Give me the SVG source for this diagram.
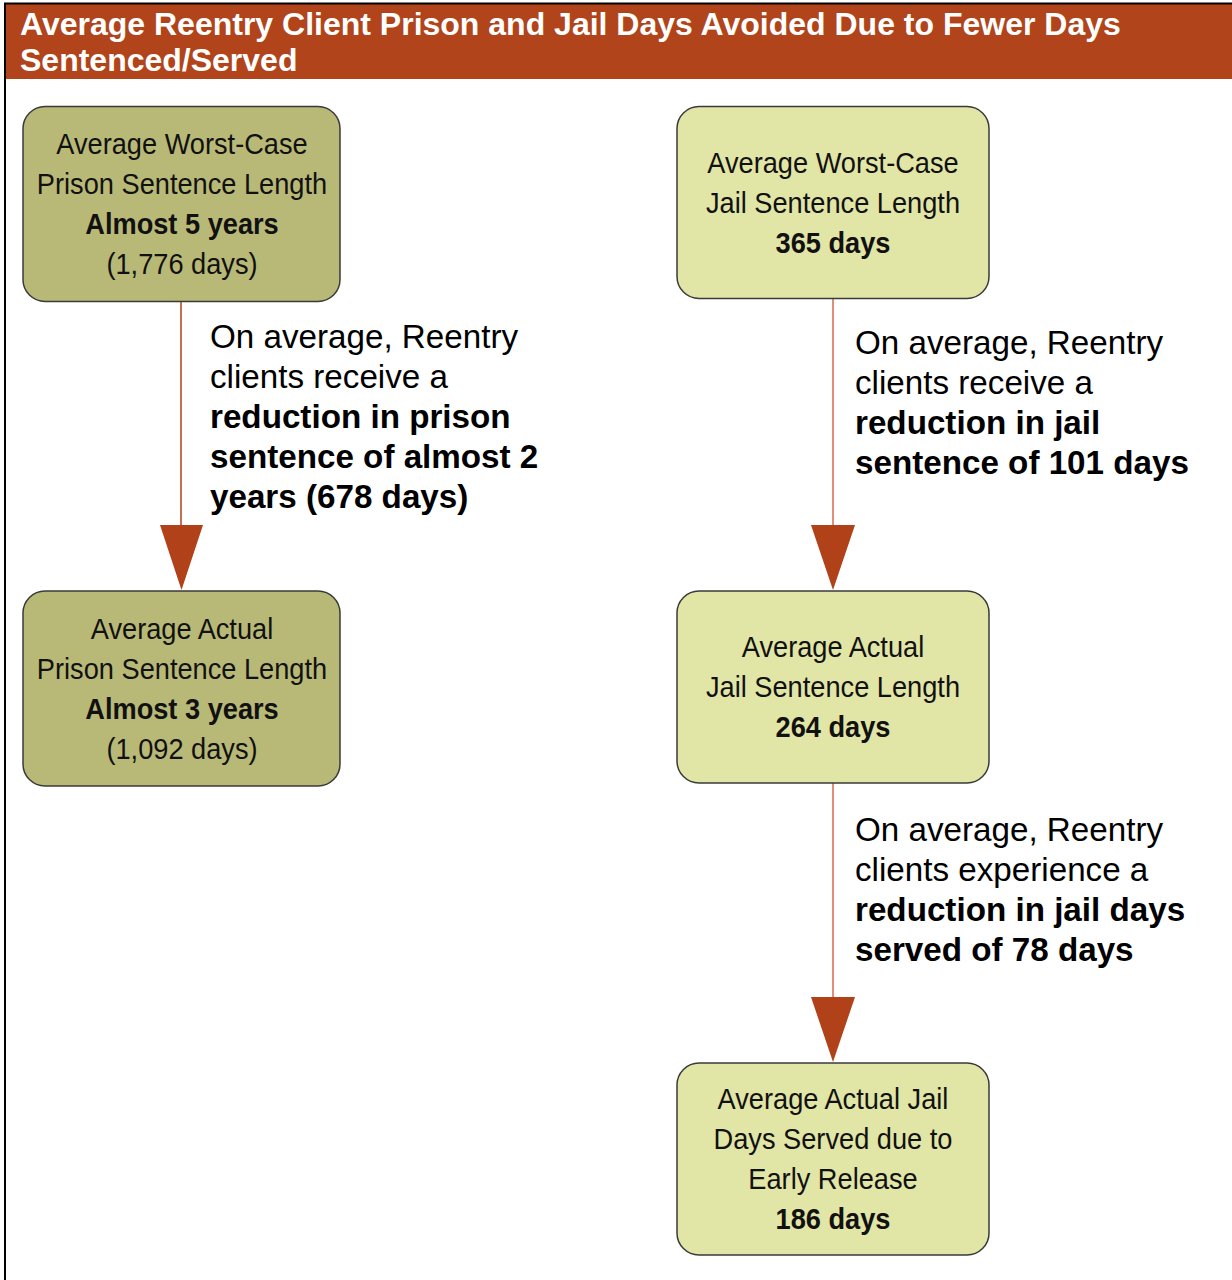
<svg xmlns="http://www.w3.org/2000/svg" width="1232" height="1280" viewBox="0 0 1232 1280">
<defs>
<style>
.frame{fill:none;stroke:#000;stroke-width:2}
.hdr{fill:#b1441a}
.title{font-family:"Liberation Sans",Arial,sans-serif;font-weight:bold;font-size:32px;fill:#fff}
.dark{fill:#b9b977;stroke:#3a3a3a;stroke-width:1.5}
.light{fill:#e1e5a6;stroke:#3a3a3a;stroke-width:1.5}
.nt{font-family:"Liberation Sans",Arial,sans-serif;font-size:30px;fill:#111;text-anchor:middle}
.b{font-weight:bold}
.lbl{font-family:"Liberation Sans",Arial,sans-serif;font-size:33.2px;fill:#000}
.c1{stroke:#b04118;stroke-width:1.5;fill:none}
.c2{stroke:#e0907a;stroke-width:2;fill:none}
.ah{fill:#b04118}
</style>
</defs>
<rect x="0" y="0" width="1232" height="1280" fill="#fff"/>
<rect class="hdr" x="6" y="4" width="1226" height="75"/>
<path class="frame" d="M5,1280 V3.5 H1232"/>
<text class="title" x="20" y="35">Average Reentry Client Prison and Jail Days Avoided Due to Fewer Days</text>
<text class="title" x="20" y="71">Sentenced/Served</text>

<g id="connectors">
<line class="c1" x1="181" y1="302" x2="181" y2="527"/>
<polygon class="ah" points="160,525 203,525 181.5,590"/>
<line class="c2" x1="833" y1="299" x2="833" y2="527"/>
<polygon class="ah" points="811,525 855,525 833,590"/>
<line class="c2" x1="833" y1="783" x2="833" y2="999"/>
<polygon class="ah" points="811,997 855,997 833,1062"/>
</g>

<g id="node-prison-worst">
<rect class="dark" x="23" y="106.5" width="317" height="195" rx="22"/>
<g transform="translate(182 0) scale(0.907 1)">
<text class="nt" x="0" y="154">Average Worst-Case</text>
<text class="nt" x="0" y="194">Prison Sentence Length</text>
<text class="nt b" x="0" y="234">Almost 5 years</text>
<text class="nt" x="0" y="274">(1,776 days)</text>
</g>
</g>

<g id="node-prison-actual">
<rect class="dark" x="23" y="591" width="317" height="195" rx="22"/>
<g transform="translate(182 0) scale(0.907 1)">
<text class="nt" x="0" y="639">Average Actual</text>
<text class="nt" x="0" y="679">Prison Sentence Length</text>
<text class="nt b" x="0" y="719">Almost 3 years</text>
<text class="nt" x="0" y="759">(1,092 days)</text>
</g>
</g>

<g id="node-jail-worst">
<rect class="light" x="677" y="106.5" width="312" height="192" rx="22"/>
<g transform="translate(833 0) scale(0.907 1)">
<text class="nt" x="0" y="173">Average Worst-Case</text>
<text class="nt" x="0" y="213">Jail Sentence Length</text>
<text class="nt b" x="0" y="253">365 days</text>
</g>
</g>

<g id="node-jail-actual">
<rect class="light" x="677" y="591" width="312" height="192" rx="22"/>
<g transform="translate(833 0) scale(0.907 1)">
<text class="nt" x="0" y="657">Average Actual</text>
<text class="nt" x="0" y="697">Jail Sentence Length</text>
<text class="nt b" x="0" y="737">264 days</text>
</g>
</g>

<g id="node-jail-served">
<rect class="light" x="677" y="1063" width="312" height="192" rx="22"/>
<g transform="translate(833 0) scale(0.907 1)">
<text class="nt" x="0" y="1109">Average Actual Jail</text>
<text class="nt" x="0" y="1149">Days Served due to</text>
<text class="nt" x="0" y="1189">Early Release</text>
<text class="nt b" x="0" y="1229">186 days</text>
</g>
</g>

<g id="label-prison">
<text class="lbl" x="210" y="348">On average, Reentry</text>
<text class="lbl" x="210" y="388">clients receive a</text>
<text class="lbl b" x="210" y="428">reduction in prison</text>
<text class="lbl b" x="210" y="468">sentence of almost 2</text>
<text class="lbl b" x="210" y="508">years (678 days)</text>
</g>

<g id="label-jail-sentence">
<text class="lbl" x="855" y="354">On average, Reentry</text>
<text class="lbl" x="855" y="394">clients receive a</text>
<text class="lbl b" x="855" y="434">reduction in jail</text>
<text class="lbl b" x="855" y="474">sentence of 101 days</text>
</g>

<g id="label-jail-served">
<text class="lbl" x="855" y="841">On average, Reentry</text>
<text class="lbl" x="855" y="881">clients experience a</text>
<text class="lbl b" x="855" y="921">reduction in jail days</text>
<text class="lbl b" x="855" y="961">served of 78 days</text>
</g>
</svg>
